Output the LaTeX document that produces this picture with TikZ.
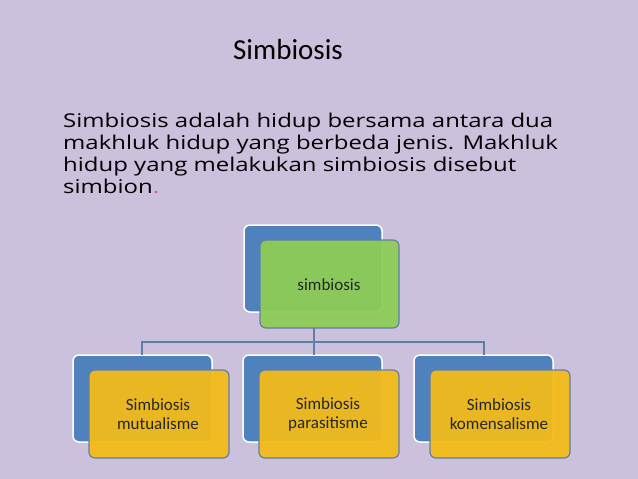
\documentclass[tikz,border=0pt]{standalone}
\usepackage{fontspec}
\setmainfont{Carlito}
\newfontfamily\parafont[FakeStretch=1.26]{Open Sans}
\definecolor{bg}{HTML}{CBC1DC}
\definecolor{bblue}{HTML}{4F81BD}
\definecolor{bgreen}{HTML}{8FCC57}
\definecolor{byel}{HTML}{F2BA1A}
\definecolor{edge}{HTML}{5F7FA8}
\begin{document}
\begin{tikzpicture}[x=1pt,y=-1pt,
  back/.style={fill=bblue,draw=white,line width=1.5pt,rounded corners=6pt},
  front/.style={draw=edge,line width=1.2pt,rounded corners=6pt,fill opacity=0.95},
  lbl/.style={font=\fontsize{17}{19}\selectfont,align=center,text=black!85},
  conn/.style={draw=edge,line width=1.2pt}]
\fill[bg] (0,0) rectangle (638,479);
\useasboundingbox (0,0) rectangle (638,479);
\node[font=\fontsize{29}{32}\selectfont] (title) at (288,50) {Simbiosis};
\node[anchor=north west,inner sep=0pt,align=left,font=\parafont\fontsize{19}{22}\selectfont] (para) at (63,113)
{Simbiosis adalah hidup bersama antara dua\\makhluk hidup yang berbeda jenis. Makhluk\\hidup yang melakukan simbiosis disebut\\simbion\textcolor{magenta!70}{.}};
% top
\draw[back] (244,225) rectangle (382,312);
\draw[front,fill=bgreen] (260,240) rectangle (399,328);
\node[lbl] (top) at (329,285) {simbiosis};
% bottom
\foreach \x/\n/\t in {73/a/{Simbiosis\\mutualisme},243/b/{Simbiosis\\parasitisme},414/c/{Simbiosis\\komensalisme}}{
  \draw[back] (\x,355) rectangle ({\x+139},442);
  \draw[front,fill=byel] ({\x+16},370) rectangle ({\x+156},458);
  \node[lbl] (\n) at ({\x+85},414) {\t};
}
\coordinate (hl) at (142,342);
\coordinate (hr) at (484,342);
\coordinate (hm) at (314,342);
\draw[conn] (314,328) -- (hm);
\draw[conn] (142,355) -- (hl) -- (hr) -- (484,355);
\draw[conn] (hm) -- (314,355);
\end{tikzpicture}
\end{document}
